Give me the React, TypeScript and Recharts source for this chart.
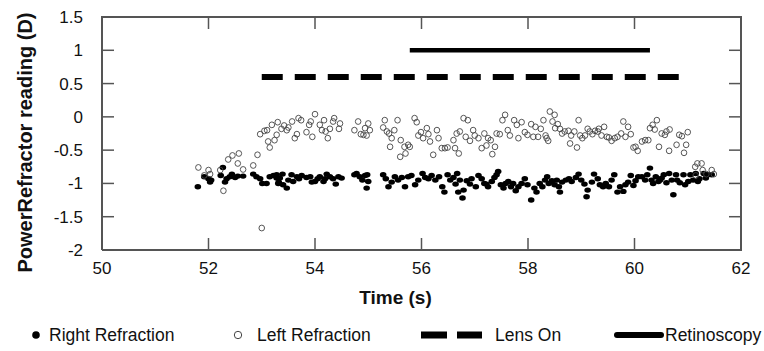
import { ScatterChart, Scatter, XAxis, YAxis } from 'recharts';

// Right eye refraction (filled markers): [time s, D]
const rightRefraction: [number, number][] = [
  [51.8, -1.05], [51.92, -0.9], [52.0, -0.93], [52.03, -0.98], [52.05, -0.95], [52.23, -0.88],
  [52.27, -0.76], [52.31, -0.98], [52.34, -0.93], [52.4, -0.9], [52.44, -0.86], [52.5, -0.91],
  [52.55, -0.89], [52.65, -0.89], [52.84, -0.86], [52.9, -0.9], [52.97, -0.93], [53.01, -1.0],
  [53.09, -1.0], [53.15, -0.9], [53.22, -0.88], [53.28, -0.92], [53.28, -0.87], [53.31, -1.0],
  [53.32, -0.98], [53.34, -0.92], [53.39, -0.86], [53.4, -1.02], [53.47, -1.07], [53.5, -0.95],
  [53.56, -0.87], [53.59, -0.97], [53.66, -0.9], [53.7, -0.93], [53.75, -0.88], [53.84, -0.91],
  [53.91, -0.9], [53.94, -0.98], [54.0, -0.97], [54.05, -0.93], [54.09, -0.9], [54.16, -0.97],
  [54.19, -0.93], [54.22, -0.86], [54.28, -0.9], [54.34, -0.93], [54.39, -1.01], [54.44, -0.9],
  [54.5, -0.92], [54.74, -0.87], [54.78, -0.85], [54.84, -0.9], [54.89, -0.95], [54.94, -0.88],
  [54.97, -1.07], [54.98, -0.87], [55.0, -0.97], [55.28, -0.87], [55.33, -0.93], [55.38, -1.05],
  [55.44, -0.98], [55.5, -0.9], [55.56, -0.95], [55.63, -0.91], [55.69, -1.05], [55.75, -0.9],
  [55.81, -0.88], [55.88, -1.02], [55.94, -0.95], [56.02, -0.85], [56.07, -0.91], [56.13, -0.93],
  [56.19, -0.88], [56.26, -0.95], [56.33, -0.9], [56.39, -1.05], [56.43, -1.13], [56.49, -0.87],
  [56.54, -0.95], [56.6, -0.91], [56.64, -1.01], [56.67, -0.85], [56.69, -1.13], [56.72, -0.95],
  [56.77, -1.22], [56.79, -1.1], [56.85, -0.96], [56.91, -1.01], [56.94, -0.93], [57.02, -1.05],
  [57.07, -0.88], [57.13, -0.93], [57.18, -1.0], [57.22, -1.01], [57.25, -1.05], [57.32, -0.97],
  [57.37, -0.91], [57.41, -0.87], [57.44, -0.82], [57.49, -1.02], [57.54, -1.07], [57.58, -1.0],
  [57.63, -0.97], [57.68, -1.05], [57.72, -1.0], [57.77, -1.11], [57.82, -1.05], [57.88, -1.0],
  [57.94, -0.93], [57.99, -1.02], [58.06, -1.25], [58.12, -1.07], [58.16, -1.13], [58.22, -1.0],
  [58.27, -1.05], [58.32, -0.95], [58.36, -0.9], [58.39, -1.0], [58.45, -0.96], [58.5, -1.02],
  [58.54, -0.95], [58.58, -1.05], [58.6, -1.13], [58.64, -0.98], [58.71, -0.95], [58.77, -0.93],
  [58.82, -0.97], [58.9, -0.91], [58.95, -0.86], [59.0, -0.95], [59.06, -1.01], [59.1, -1.2],
  [59.12, -1.1], [59.2, -0.98], [59.24, -0.86], [59.31, -0.93], [59.35, -1.02], [59.41, -1.05],
  [59.46, -1.0], [59.52, -1.05], [59.57, -0.95], [59.62, -0.87], [59.68, -1.13], [59.73, -1.05],
  [59.79, -1.12], [59.83, -1.02], [59.88, -0.98], [59.93, -0.88], [59.98, -1.03], [60.02, -0.96],
  [60.07, -0.9], [60.14, -0.9], [60.2, -0.95], [60.24, -0.87], [60.29, -0.77], [60.32, -0.95],
  [60.35, -1.0], [60.4, -0.9], [60.45, -0.97], [60.48, -0.95], [60.51, -0.92], [60.55, -0.87],
  [60.6, -0.99], [60.65, -0.85], [60.7, -0.95], [60.73, -1.17], [60.78, -0.87], [60.8, -0.95],
  [60.85, -0.99], [60.92, -0.87], [60.95, -1.02], [61.01, -0.97], [61.05, -0.87], [61.1, -0.95],
  [61.15, -0.85], [61.19, -0.97], [61.22, -0.93], [61.3, -0.85], [61.34, -0.92], [61.38, -0.87],
  [61.45, -0.87],
];

// Left eye refraction (hollow markers)
const leftRefraction: [number, number][] = [
  [51.81, -0.76], [51.92, -0.88], [52.0, -0.8], [52.03, -0.86], [52.22, -0.8], [52.28, -1.11],
  [52.37, -0.64], [52.45, -0.58], [52.55, -0.7], [52.57, -0.55], [52.65, -0.79], [52.84, -0.73],
  [52.92, -0.57], [52.97, -0.26], [53.0, -1.67], [53.05, -0.21], [53.1, -0.2], [53.12, -0.37],
  [53.15, -0.46], [53.19, -0.12], [53.24, -0.35], [53.28, -0.27], [53.3, -0.08], [53.37, -0.18],
  [53.42, -0.13], [53.47, -0.2], [53.5, -0.16], [53.57, -0.07], [53.62, -0.32], [53.66, -0.26],
  [53.69, -0.02], [53.74, -0.05], [53.84, -0.23], [53.89, -0.12], [53.92, -0.07], [53.95, -0.3],
  [54.0, 0.04], [54.09, -0.12], [54.13, -0.2], [54.17, -0.05], [54.2, -0.22], [54.24, -0.32],
  [54.28, -0.18], [54.34, -0.07], [54.36, -0.02], [54.45, -0.18], [54.47, -0.1], [54.74, -0.2],
  [54.81, -0.07], [54.86, -0.26], [54.91, -0.27], [54.94, -0.17], [54.97, -0.28], [55.0, -0.1],
  [55.03, -0.2], [55.28, -0.16], [55.31, -0.05], [55.35, -0.22], [55.39, -0.25], [55.41, -0.45],
  [55.44, -0.32], [55.49, -0.2], [55.55, -0.05], [55.6, -0.6], [55.61, -0.35], [55.68, -0.45],
  [55.7, -0.55], [55.75, -0.42], [55.78, -0.45], [55.87, -0.02], [55.91, -0.08], [55.94, -0.28],
  [55.99, -0.23], [56.03, -0.32], [56.1, -0.17], [56.13, -0.26], [56.16, -0.37], [56.22, -0.57],
  [56.29, -0.2], [56.32, -0.32], [56.38, -0.47], [56.44, -0.47], [56.49, -0.46], [56.6, -0.35],
  [56.63, -0.47], [56.66, -0.25], [56.7, -0.55], [56.72, -0.22], [56.79, -0.02], [56.83, -0.3],
  [56.87, -0.05], [56.91, -0.36], [56.97, -0.2], [57.0, -0.28], [57.07, -0.32], [57.13, -0.47],
  [57.18, -0.25], [57.22, -0.43], [57.25, -0.32], [57.3, -0.35], [57.33, -0.56], [57.38, -0.45],
  [57.41, -0.25], [57.47, -0.26], [57.52, -0.05], [57.57, 0.03], [57.62, -0.2], [57.66, -0.28],
  [57.74, -0.05], [57.79, -0.12], [57.82, -0.32], [57.88, -0.08], [57.94, -0.23], [57.99, -0.27],
  [58.06, -0.11], [58.1, -0.3], [58.14, -0.15], [58.19, -0.3], [58.24, -0.18], [58.29, -0.05],
  [58.33, -0.28], [58.35, -0.32], [58.38, -0.36], [58.41, 0.08], [58.46, -0.07], [58.5, 0.03],
  [58.51, -0.17], [58.56, -0.11], [58.6, -0.18], [58.64, -0.25], [58.69, -0.22], [58.76, -0.21],
  [58.79, -0.4], [58.81, -0.28], [58.87, -0.22], [58.92, -0.46], [58.95, -0.05], [58.98, -0.28],
  [59.02, -0.32], [59.07, -0.28], [59.12, -0.18], [59.16, -0.22], [59.21, -0.26], [59.26, -0.21],
  [59.31, -0.22], [59.33, -0.18], [59.38, -0.28], [59.43, -0.15], [59.48, -0.3], [59.52, -0.31],
  [59.57, -0.36], [59.63, -0.32], [59.68, -0.3], [59.75, -0.25], [59.79, -0.07], [59.83, -0.3],
  [59.88, -0.15], [59.93, -0.26], [59.98, -0.46], [60.02, -0.45], [60.06, -0.51], [60.14, -0.37],
  [60.2, -0.35], [60.26, -0.35], [60.29, -0.17], [60.34, -0.12], [60.38, -0.19], [60.42, -0.05],
  [60.46, -0.45], [60.51, -0.25], [60.57, -0.27], [60.6, -0.22], [60.65, -0.51], [60.66, -0.19],
  [60.79, -0.42], [60.84, -0.27], [60.89, -0.29], [60.93, -0.54], [60.97, -0.42], [61.0, -0.23],
  [61.14, -0.75], [61.15, -0.88], [61.18, -0.7], [61.26, -0.7], [61.28, -0.8], [61.35, -0.86],
  [61.45, -0.8], [61.49, -0.86],
];

// intervals drawn as horizontal bars
const lensOn = { start: 53.0, end: 60.85, level: 0.6 };
const retinoscopy = { start: 55.78, end: 60.29, level: 1.0 };

const xDomain: [number, number] = [50, 62];
const yDomain: [number, number] = [-2, 1.5];
const xTicks = [50, 52, 54, 56, 58, 60, 62];
const yTicks = [-2, -1.5, -1, -0.5, 0, 0.5, 1, 1.5];

const FONT = "Arial, 'Liberation Sans', sans-serif";
const AXIS_GREY = '#555555';
const TICK_LEN = 12;

const toPts = (arr: [number, number][]) => arr.map(([x, y]) => ({ x, y }));
const segment = (s: { start: number; end: number; level: number }) => [
  { x: s.start, y: s.level },
  { x: s.end, y: s.level },
];

// plot frame and inward tick marks, placed through the chart scales
const [x0, x1] = xDomain;
const [y0, y1] = yDomain;
const frame = [
  { x: x0, y: y0 }, { x: x1, y: y0 }, { x: x1, y: y1 }, { x: x0, y: y1 }, { x: x0, y: y0 },
];
const bottomTicks = xTicks.map((x) => ({ x, y: y0 }));
const topTicks = xTicks.map((x) => ({ x, y: y1 }));
const leftTicks = yTicks.map((y) => ({ x: x0, y }));
const rightTicks = yTicks.map((y) => ({ x: x1, y }));

const tickMark = (dx: number, dy: number) => (props: any) => (
  <path d={`M${props.cx},${props.cy}l${dx},${dy}`} stroke={AXIS_GREY} strokeWidth={1.5} fill="none" />
);
const UpTick = tickMark(0, -TICK_LEN);
const DownTick = tickMark(0, TICK_LEN);
const InRightTick = tickMark(TICK_LEN, 0);
const InLeftTick = tickMark(-TICK_LEN, 0);

const FilledDot = (props: any) => (
  <ellipse cx={props.cx} cy={props.cy} rx={3.3} ry={2.7} fill="#000" />
);
const HollowDot = (props: any) => (
  <ellipse cx={props.cx} cy={props.cy} rx={2.8} ry={2.9} fill="none" stroke="#444" strokeWidth={0.9} />
);
const NoDot = () => <g />;

const XLabel = (props: any) => {
  const { x, width, y } = props.viewBox;
  return (
    <text x={x + width / 2 - 26} y={y + 54} textAnchor="middle" fontFamily={FONT} fontSize={19} fontWeight="bold" fill="#111">
      Time (s)
    </text>
  );
};

const YLabel = (props: any) => {
  const { y, height } = props.viewBox;
  const cx = 24;
  const cy = y + height / 2 + 9;
  return (
    <text x={cx} y={cy} transform={`rotate(-90 ${cx} ${cy})`} textAnchor="middle" fontFamily={FONT} fontSize={20} fontWeight="bold" fill="#111">
      PowerRefractor reading (D)
    </text>
  );
};

function LegendRow() {
  const t = { fontFamily: FONT, fontSize: 17.5, fill: '#111', y: 341 };
  return (
    <svg width={764} height={351} style={{ position: 'absolute', left: 0, top: 0, pointerEvents: 'none' }}>
      <circle cx={36} cy={335} r={3.8} fill="#000" />
      <text x={49} {...t}>Right Refraction</text>
      <circle cx={238} cy={335} r={3.7} fill="none" stroke="#444" strokeWidth={1} />
      <text x={257} {...t}>Left Refraction</text>
      <rect x={421} y={331.5} width={26} height={7} fill="#000" />
      <rect x={457} y={331.5} width={25} height={7} fill="#000" />
      <text x={495} {...t}>Lens On</text>
      <line x1={617} y1={335} x2={661} y2={335} stroke="#000" strokeWidth={6} strokeLinecap="round" />
      <text x={665} {...t}>Retinoscopy</text>
    </svg>
  );
}

export default function App() {
  const tickStyle = { fontFamily: FONT, fontSize: 17, fill: '#111' };
  return (
    <div style={{ position: 'absolute', left: 0, top: 0, width: 764, height: 351, overflow: 'hidden', background: '#fff' }}>
      <div style={{ position: 'absolute', left: 8, top: 8 }}>
        <ScatterChart width={748} height={310} margin={{ top: 9, right: 15, left: 0, bottom: 8 }}>
          <XAxis
            type="number"
            dataKey="x"
            domain={xDomain}
            ticks={xTicks}
            interval={0}
            height={60}
            axisLine={false}
            tickLine={false}
            tickSize={0}
            tickMargin={12}
            tick={tickStyle}
            label={<XLabel />}
          />
          <YAxis
            type="number"
            dataKey="y"
            domain={yDomain}
            ticks={yTicks}
            interval={0}
            width={94}
            axisLine={false}
            tickLine={false}
            tickSize={0}
            tickMargin={19}
            tick={tickStyle}
            label={<YLabel />}
          />
          <Scatter
            name="frame"
            data={frame}
            line={{ stroke: AXIS_GREY, strokeWidth: 2 }}
            shape={<NoDot />}
            legendType="none"
            isAnimationActive={false}
          />
          <Scatter name="bottom ticks" data={bottomTicks} shape={<UpTick />} legendType="none" isAnimationActive={false} />
          <Scatter name="top ticks" data={topTicks} shape={<DownTick />} legendType="none" isAnimationActive={false} />
          <Scatter name="left ticks" data={leftTicks} shape={<InRightTick />} legendType="none" isAnimationActive={false} />
          <Scatter name="right ticks" data={rightTicks} shape={<InLeftTick />} legendType="none" isAnimationActive={false} />
          <Scatter
            name="Lens On"
            data={segment(lensOn)}
            line={{ stroke: '#000', strokeWidth: 6, strokeDasharray: '21 12' }}
            shape={<NoDot />}
            isAnimationActive={false}
          />
          <Scatter
            name="Retinoscopy"
            data={segment(retinoscopy)}
            line={{ stroke: '#000', strokeWidth: 4.5 }}
            shape={<NoDot />}
            isAnimationActive={false}
          />
          <Scatter name="Right Refraction" data={toPts(rightRefraction)} shape={<FilledDot />} isAnimationActive={false} />
          <Scatter name="Left Refraction" data={toPts(leftRefraction)} shape={<HollowDot />} isAnimationActive={false} />
        </ScatterChart>
      </div>
      <LegendRow />
    </div>
  );
}
